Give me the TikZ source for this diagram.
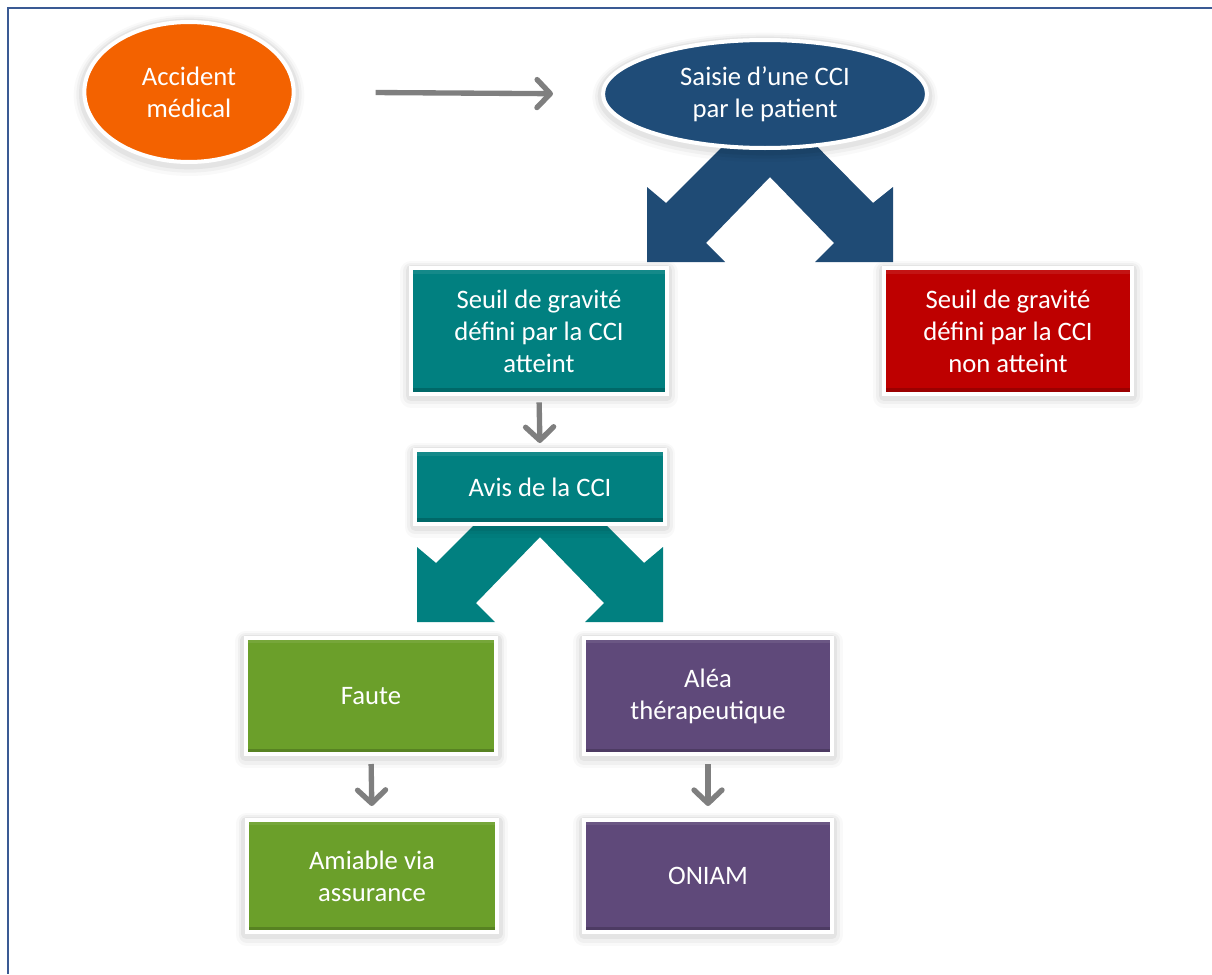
\documentclass[tikz,border=0pt]{standalone}
\usepackage{fontspec}
\setmainfont{Carlito}
\usetikzlibrary{arrows.meta,shapes.geometric}
\definecolor{frameblue}{HTML}{3A5A94}
\definecolor{cOrange}{HTML}{F36200}
\definecolor{cNavy}{HTML}{1F4C78}
\definecolor{cChevBlue}{HTML}{1F4B75}
\definecolor{cTeal}{HTML}{018080}
\definecolor{cRed}{HTML}{BE0000}
\definecolor{cGreen}{HTML}{6B9F2A}
\definecolor{cPurple}{HTML}{5F497A}
\definecolor{cArrow}{HTML}{7F7F7F}
\begin{document}
\begin{tikzpicture}[x=0.75pt,y=-0.75pt,
  halo/.style={
    preaction={draw=black,draw opacity=0.025,line width=16pt,line join=round,transform canvas={yshift=-2.5pt}},
    preaction={draw=black,draw opacity=0.035,line width=12pt,line join=round,transform canvas={yshift=-2pt}},
    preaction={draw=black,draw opacity=0.05,line width=8pt,line join=round,transform canvas={yshift=-1.5pt}}},
  bevel/.style={path picture={
    \fill[black,opacity=0.18] ([yshift=4pt]path picture bounding box.south west)
      rectangle (path picture bounding box.south east);
    \fill[white,opacity=0.08] ([yshift=-4pt]path picture bounding box.north west)
      rectangle (path picture bounding box.north east);}},
  box/.style={rectangle,draw=white,line width=3pt,text=white,align=center,
    font=\fontsize{20}{24}\selectfont,inner sep=0pt,halo,bevel},
  oval/.style={ellipse,draw=white,line width=3pt,text=white,align=center,
    font=\fontsize{20}{24}\selectfont,inner sep=0pt,halo},
  flow/.style={draw=cArrow,line width=4pt,
    -{Straight Barb[length=10pt,width=21pt,line cap=round,line join=round]}}]
\useasboundingbox (0,0) rectangle (1212,974);
% frame
\draw[frameblue,line width=2pt] (1212,8) -- (8,8) -- (8,974);
% blue diverging arrows
\fill[cChevBlue] (770,99) -- (666,203) -- (647,187) -- (647,262) -- (725,262) -- (706,243)
  -- (770,177) -- (834,243) -- (815,262) -- (893,262) -- (893,187) -- (873,203) -- cycle;
% teal diverging arrows
\fill[cTeal] (540,459) -- (436,563) -- (417,547) -- (417,622) -- (495,622) -- (476,603)
  -- (540,537) -- (604,603) -- (585,622) -- (663,622) -- (663,547) -- (644,563) -- cycle;
% nodes
\node[oval,fill=cOrange,minimum width=157pt,minimum height=105pt] (accident) at (189,92) {Accident\\médical};
\node[oval,fill=cNavy,minimum width=243pt,minimum height=81pt] (saisie) at (765,94) {Saisie d’une CCI\\par le patient};
\node[box,fill=cTeal,minimum width=192pt,minimum height=94pt] (seuil) at (539,331) {Seuil de gravité\\défini par la CCI\\atteint};
\node[box,fill=cRed,minimum width=186pt,minimum height=94pt] (nonseuil) at (1008,331) {Seuil de gravité\\défini par la CCI\\non atteint};
\node[box,fill=cTeal,minimum width=187pt,minimum height=55pt] (avis) at (540,487) {Avis de la CCI};
\node[box,fill=cGreen,minimum width=188pt,minimum height=87pt] (faute) at (371,696) {Faute};
\node[box,fill=cPurple,minimum width=186pt,minimum height=87pt] (alea) at (708,696) {Aléa\\thérapeutique};
\node[box,fill=cGreen,minimum width=188pt,minimum height=84pt] (amiable) at (372,876) {Amiable via\\assurance};
\node[box,fill=cPurple,minimum width=186pt,minimum height=84pt] (oniam) at (708,876) {ONIAM};
% connectors
\draw[flow,shorten <=60pt,shorten >=36pt] (accident.east) -- (saisie.west);
\draw[flow,shorten <=5pt,shorten >=4pt] (seuil.south) -- (avis.north);
\draw[flow,shorten <=6pt,shorten >=9pt] (faute.south) -- (amiable.north);
\draw[flow,shorten <=6pt,shorten >=9pt] (alea.south) -- (oniam.north);
\end{tikzpicture}
\end{document}
